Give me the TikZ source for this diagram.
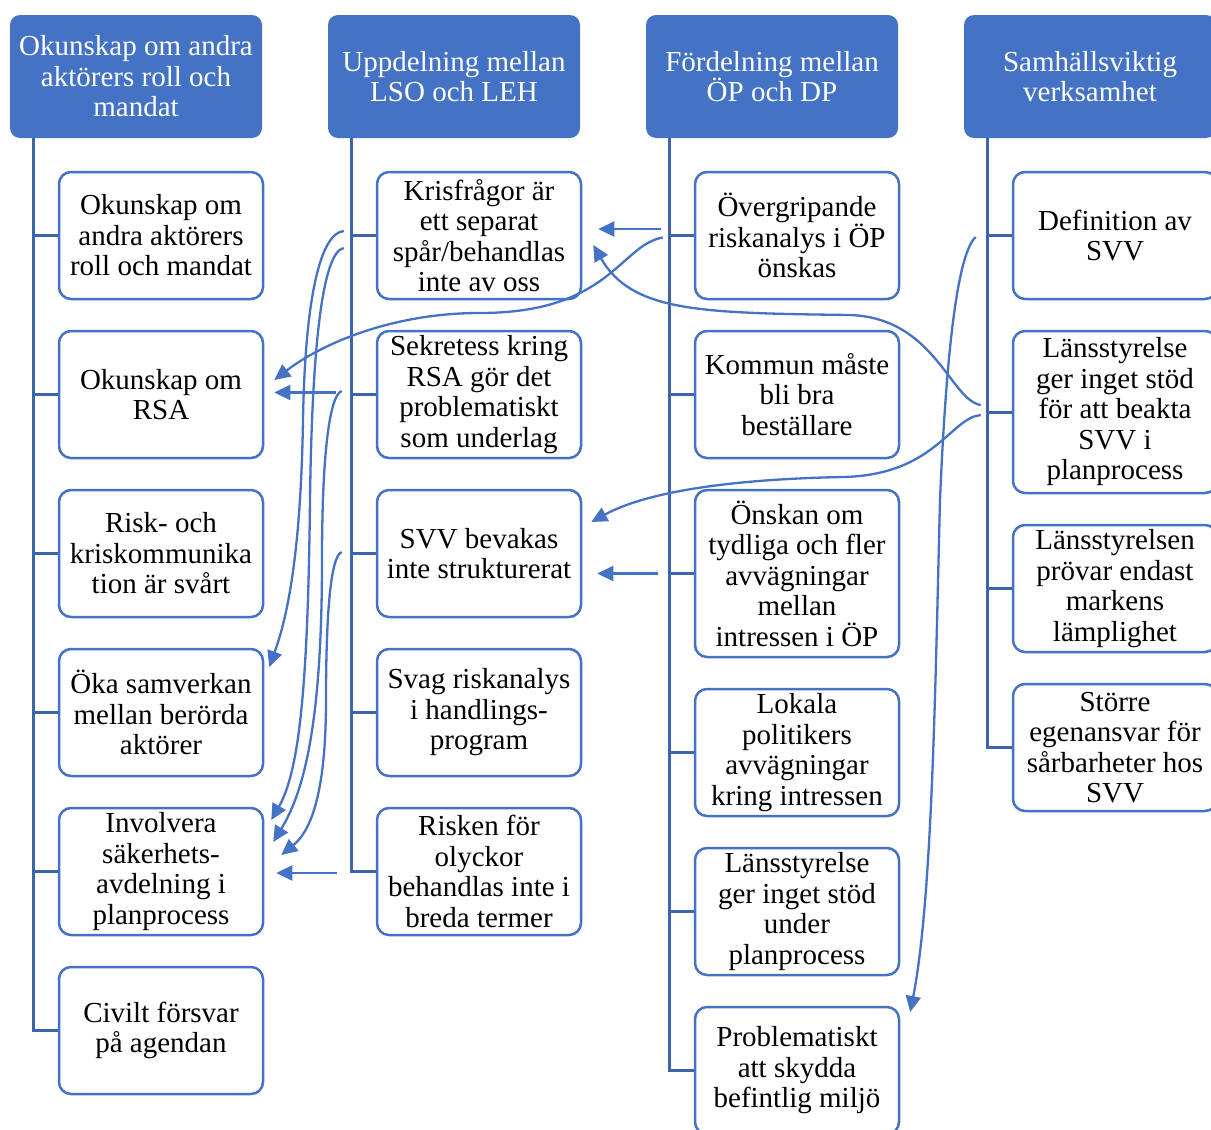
\documentclass[tikz,border=0pt]{standalone}
\usepackage{fontspec}
\setmainfont{Liberation Serif}
\usetikzlibrary{arrows.meta,calc}
\definecolor{acc}{HTML}{4472C4}
\definecolor{trunkc}{HTML}{3D65AE}
\begin{document}
\begin{tikzpicture}[x=1pt,y=-1pt,
  hdr/.style={rectangle, rounded corners=10pt, fill=acc, draw=none, text=white,
    minimum width=252pt, minimum height=123pt, inner sep=0pt, align=center,
    font=\fontsize{29}{30.5}\selectfont},
  leaf/.style={rectangle, rounded corners=12pt, fill=white, draw=acc, line width=2.5pt,
    text=black, minimum width=204pt, minimum height=127pt, inner sep=0pt, align=center,
    font=\fontsize{29}{30.5}\selectfont},
  tall/.style={minimum height=#1},
  tree/.style={draw=trunkc, line width=3pt},
  link/.style={draw=acc, line width=2.3pt, -{Triangle[length=16pt,width=15pt]}},
]
\useasboundingbox (0,0) rectangle (1211,1130);
\clip (0,0) rectangle (1211,1130);

% headers
\node[hdr] (h1) at (136,76.5) {Okunskap om andra\\aktörers roll och\\mandat};
\node[hdr] (h2) at (454,76.5) {Uppdelning mellan\\LSO och LEH};
\node[hdr] (h3) at (772,76.5) {Fördelning mellan\\ÖP och DP};
\node[hdr] (h4) at (1090,76.5) {Samhällsviktig\\verksamhet};

% column 1
\node[leaf] (c1a) at (161,235.5) {Okunskap om\\andra aktörers\\roll och mandat};
\node[leaf] (c1b) at (161,394.5) {Okunskap om\\RSA};
\node[leaf] (c1c) at (161,553.5) {Risk- och\\kriskommunika\\tion är svårt};
\node[leaf] (c1d) at (161,712.5) {Öka samverkan\\mellan berörda\\aktörer};
\node[leaf] (c1e) at (161,871.5) {Involvera\\säkerhets-\\avdelning i\\planprocess};
\node[leaf] (c1f) at (161,1030.5) {Civilt försvar\\på agendan};

% column 2
\node[leaf] (c2a) at (479,235.5) {Krisfrågor är\\ett separat\\spår/behandlas\\inte av oss};
\node[leaf] (c2b) at (479,394.5) {Sekretess kring\\RSA gör det\\problematiskt\\som underlag};
\node[leaf] (c2c) at (479,553.5) {SVV bevakas\\inte strukturerat};
\node[leaf] (c2d) at (479,712.5) {Svag riskanalys\\i handlings-\\program};
\node[leaf] (c2e) at (479,871.5) {Risken för\\olyckor\\behandlas inte i\\breda termer};

% column 3
\node[leaf] (c3a) at (797,235.5) {Övergripande\\riskanalys i ÖP\\önskas};
\node[leaf] (c3b) at (797,394.5) {Kommun måste\\bli bra\\beställare};
\node[leaf,tall=167pt] (c3c) at (797,573.5) {Önskan om\\tydliga och fler\\avvägningar\\mellan\\intressen i ÖP};
\node[leaf] (c3d) at (797,752.5) {Lokala\\politikers\\avvägningar\\kring intressen};
\node[leaf] (c3e) at (797,911.5) {Länsstyrelse\\ger inget stöd\\under\\planprocess};
\node[leaf] (c3f) at (797,1070.5) {Problematiskt\\att skydda\\befintlig miljö};

% column 4
\node[leaf] (c4a) at (1115,235.5) {Definition av\\SVV};
\node[leaf,tall=162pt] (c4b) at (1115,412) {Länsstyrelse\\ger inget stöd\\för att beakta\\SVV i\\planprocess};
\node[leaf] (c4c) at (1115,588.5) {Länsstyrelsen\\prövar endast\\markens\\lämplighet};
\node[leaf] (c4d) at (1115,747.5) {Större\\egenansvar för\\sårbarheter hos\\SVV};

% tree lines
\foreach \c in {c1a,c1b,c1c,c1d,c1e,c1f}
  \draw[tree] ([xshift=24pt]h1.south west) |- (\c.west);
\foreach \c in {c2a,c2b,c2c,c2d,c2e}
  \draw[tree] ([xshift=24pt]h2.south west) |- (\c.west);
\foreach \c in {c3a,c3b,c3c,c3d,c3e,c3f}
  \draw[tree] ([xshift=24pt]h3.south west) |- (\c.west);
\foreach \c in {c4a,c4b,c4c,c4d}
  \draw[tree] ([xshift=24pt]h4.south west) |- (\c.west);

% arrows
\draw[link] ($(c3a.west)+(-33,-6.5)$) -- ($(c2a.east)+(16,-6.5)$);
\draw[link] ($(c3a.west)+(-31,2)$) .. controls (620,245) and (610,313) .. (480,313)
  .. controls (390,313) and (320,345) .. ($(c1b.east)+(10,-14.5)$);
\draw[link] ($(c4b.west)+(-31,-7)$) .. controls (950,400) and (935,318) .. (850,315)
  .. controls (700,313) and (632,312) .. ($(c2a.east)+(11,9.5)$);
\draw[link] ($(c4b.west)+(-31,3)$) .. controls (950,418) and (935,475) .. (843,477)
  .. controls (740,479) and (650,490) .. ($(c2c.east)+(9,-31.5)$);
\draw[link] ($(c3c.west)+(-36,0)$) -- ($(c2c.east)+(15,20)$);
\draw[link] ($(c4a.west)+(-36,1.5)$) .. controls (955,255) and (945,380) .. (940,500)
  .. controls (935,700) and (932,900) .. ($(c3f.east)+(10,-58.5)$);

\draw[link] ($(c2a.west)+(-32,-4.5)$) .. controls (320,233) and (305,300) .. (303,420)
  .. controls (301,540) and (290,610) .. ($(c1d.east)+(5,-45.5)$);
\draw[link] ($(c2a.west)+(-32,12.5)$) .. controls (322,252) and (312,350) .. (310,500)
  .. controls (308,680) and (300,770) .. ($(c1e.east)+(7,-51.5)$);
\draw[link] ($(c2b.west)+(-34,-3.5)$) .. controls (330,395) and (322,450) .. (322,560)
  .. controls (322,720) and (305,790) .. ($(c1e.east)+(9,-29.5)$);
\draw[link] ($(c2c.west)+(-34,-1.5)$) .. controls (330,556) and (326,620) .. (326,700)
  .. controls (326,790) and (312,830) .. ($(c1e.east)+(17,-16.5)$);
\draw[link] ($(c2b.west)+(-40,-2)$) -- ($(c1b.east)+(10,-2)$);
\draw[link] ($(c2e.west)+(-39,1.5)$) -- ($(c1e.east)+(12,1.5)$);
\end{tikzpicture}
\end{document}
